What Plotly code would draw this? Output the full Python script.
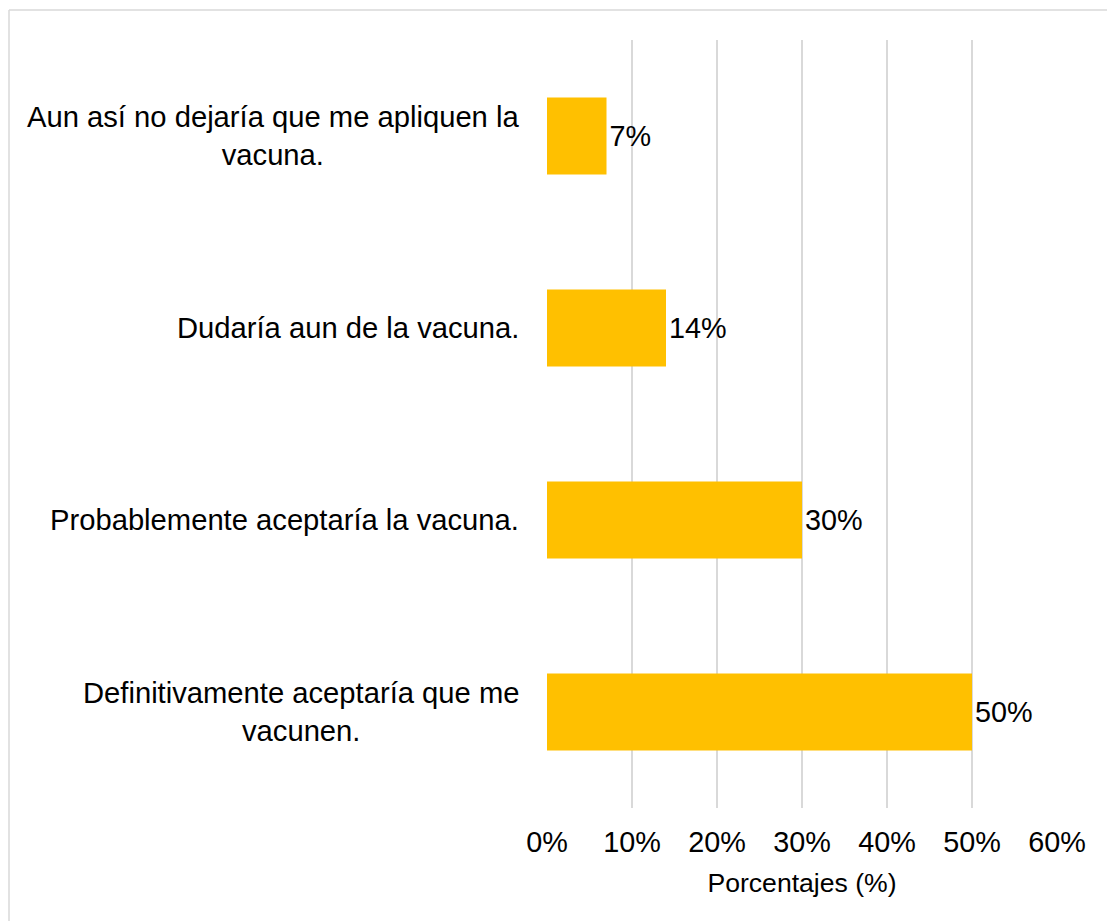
import plotly.graph_objects as go

# Survey responses (bottom to top) and their percentages
categories = [
    "Definitivamente aceptaría que me<br>vacunen.",
    "Probablemente aceptaría la vacuna.",
    "Dudaría aun de la vacuna.",
    "Aun así no dejaría que me apliquen la<br>vacuna.",
]
percentages = [50, 30, 14, 7]
tick_values = [0, 10, 20, 30, 40, 50, 60]
tick_labels = ["0%", "10%", "20%", "30%", "40%", "50%", "60%"]
axis_title = "Porcentajes (%)"

FONT = "Liberation Sans, Arial, sans-serif"
W, H = 1107, 921
ML, MR, MT, MB = 547, 50, 40, 113
PW = W - ML - MR
PH = H - MT - MB

fig = go.Figure(
    go.Bar(
        x=percentages,
        y=list(range(len(categories))),
        orientation="h",
        width=0.4,
        marker=dict(color="#FFC000", line=dict(width=0)),
        text=[f"{v}%" for v in percentages],
        textposition="outside",
        textfont=dict(family=FONT, size=28.8, color="#000000"),
        cliponaxis=False,
    )
)

# Category labels: right-aligned block, lines centred within it
annotations = [
    dict(
        text=cat,
        x=-26 / PW,
        xref="paper",
        y=i,
        yref="y",
        xanchor="right",
        yanchor="middle",
        align="center",
        showarrow=False,
        font=dict(family=FONT, size=29.2, color="#000000"),
    )
    for i, cat in enumerate(categories)
]

# Light frame along the top and left edges
frame_color = "#d9d9d9"
top_y = (H - MB - 10) / PH
left_x = (9 - ML) / PW
shapes = [
    dict(type="line", xref="paper", yref="paper",
         x0=left_x, x1=(W + 5 - ML) / PW, y0=top_y, y1=top_y,
         line=dict(color=frame_color, width=1.5)),
    dict(type="line", xref="paper", yref="paper",
         x0=left_x, x1=left_x, y0=top_y, y1=-(MB + 10) / PH,
         line=dict(color=frame_color, width=1.5)),
]

fig.update_layout(
    width=W,
    height=H,
    margin=dict(l=ML, r=MR, t=MT, b=MB),
    paper_bgcolor="white",
    plot_bgcolor="white",
    showlegend=False,
    annotations=annotations,
    shapes=shapes,
    xaxis=dict(
        range=[0, 60],
        tickvals=tick_values,
        ticktext=tick_labels,
        showgrid=True,
        gridcolor="#d9d9d9",
        gridwidth=1.5,
        zeroline=False,
        showline=False,
        ticks="",
        ticklabelstandoff=14,
        tickfont=dict(family=FONT, size=28.8, color="#000000"),
        title=dict(text=axis_title, font=dict(family=FONT, size=26.6, color="#000000"), standoff=16),
    ),
    yaxis=dict(
        range=[-0.5, len(categories) - 0.5],
        showticklabels=False,
        showgrid=False,
        zeroline=False,
        showline=False,
        ticks="",
    ),
)

fig.write_html("out.html")
